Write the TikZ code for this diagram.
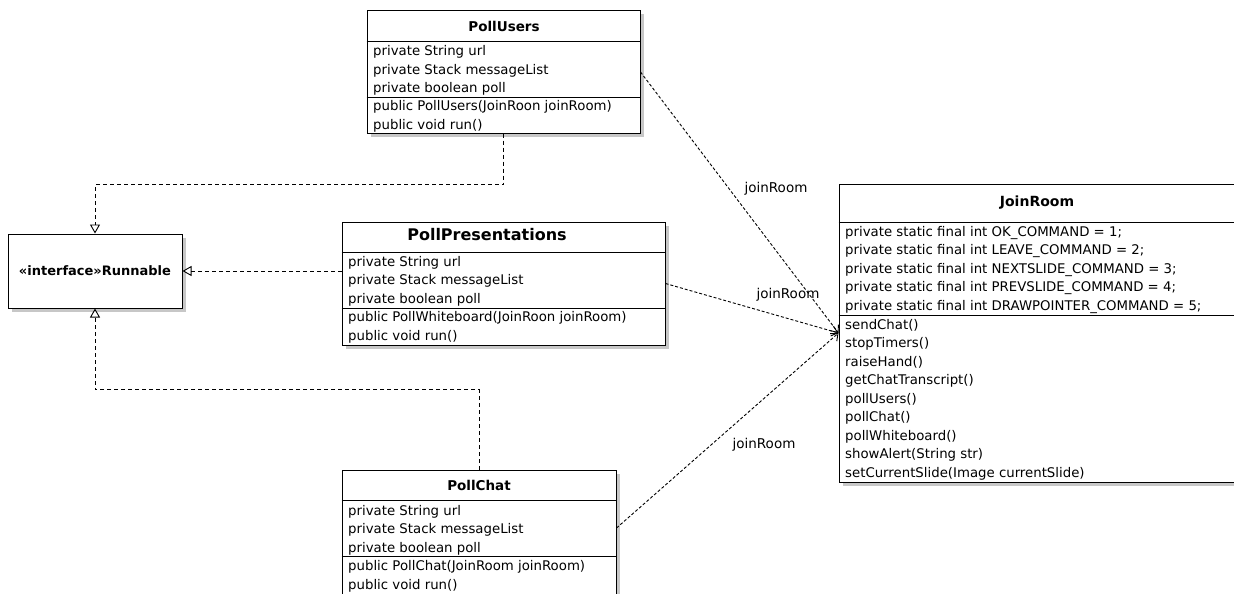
\documentclass[tikz,border=0pt]{standalone}
\usepackage{fontspec}
\setmainfont{DejaVu Sans}
\usetikzlibrary{arrows.meta,shadows}

\tikzset{
  cls/.style={draw, line width=1pt, fill=white, inner sep=0pt,
    drop shadow={shadow xshift=3.5pt,shadow yshift=-3.5pt,fill=black!22,opacity=1}},
  member/.style={anchor=base west, inner sep=0pt, font=\fontsize{13.3}{16}\selectfont},
  ctitle/.style={inner sep=0pt, font=\bfseries\fontsize{13.5}{16}\selectfont},
  lbl/.style={inner sep=0pt, font=\fontsize{13.5}{16}\selectfont},
  real/.style={line width=.9pt, dash pattern=on 4pt off 3pt, -{Triangle[open,length=9pt,width=10pt]}},
  dep/.style={line width=.9pt, dash pattern=on 3pt off 2pt, -{Straight Barb[length=6pt,width=10pt]}},
}

\begin{document}
\begin{tikzpicture}[x=1pt, y=-1pt]
\useasboundingbox (0,0) rectangle (1234,594);

% classes
\node[cls, minimum width=174pt, minimum height=74pt, font=\bfseries\fontsize{13}{15}\selectfont] (runnable) at (95,271) {«interface»Runnable};
\node[cls, minimum width=273pt, minimum height=122pt] (users) at (503.5,72) {};
\node[cls, minimum width=323pt, minimum height=123pt] (pres) at (503.5,283.5) {};
\node[cls, minimum width=274pt, minimum height=128pt] (chat) at (479,534) {};
\node[cls, minimum width=401pt, minimum height=298pt] (join) at (1039.5,333) {};

% PollUsers
\node[ctitle] at (504,26) {PollUsers};
\draw[line width=1pt] (users.west |- 0,42) -- (users.east |- 0,42);
\draw[line width=1pt] (users.west |- 0,97) -- (users.east |- 0,97);
\foreach \t [count=\i from 0] in {private String url,private Stack messageList,private boolean poll,public PollUsers(JoinRoon joinRoom),public void run()}
  \node[member] at (373,56+18.3*\i) {\t};

% PollPresentations
\node[ctitle, font=\bfseries\fontsize{16}{18}\selectfont] at (487,235) {PollPresentations};
\draw[line width=1pt] (pres.west |- 0,252) -- (pres.east |- 0,252);
\draw[line width=1pt] (pres.west |- 0,308) -- (pres.east |- 0,308);
\foreach \t [count=\i from 0] in {private String url,private Stack messageList,private boolean poll,public PollWhiteboard(JoinRoon joinRoom),public void run()}
  \node[member] at (348,266+18.5*\i) {\t};

% PollChat
\node[ctitle] at (479,485) {PollChat};
\draw[line width=1pt] (chat.west |- 0,500) -- (chat.east |- 0,500);
\draw[line width=1pt] (chat.west |- 0,556) -- (chat.east |- 0,556);
\foreach \t [count=\i from 0] in {private String url,private Stack messageList,private boolean poll,public PollChat(JoinRoom joinRoom),public void run()}
  \node[member] at (348,515+18.5*\i) {\t};

% JoinRoom
\node[ctitle, font=\bfseries\fontsize{14}{16}\selectfont] at (1037,203) {JoinRoom};
\draw[line width=1pt] (join.west |- 0,222) -- (join.east |- 0,222);
\draw[line width=1pt] (join.west |- 0,315) -- (join.east |- 0,315);
\foreach \t [count=\i from 0] in {private static final int OK\_COMMAND = 1;,private static final int LEAVE\_COMMAND = 2;,private static final int NEXTSLIDE\_COMMAND = 3;,private static final int PREVSLIDE\_COMMAND = 4;,private static final int DRAWPOINTER\_COMMAND = 5;}
  \node[member] at (845,236+18.5*\i) {\t};
\foreach \t [count=\i from 0] in {sendChat(),stopTimers(),raiseHand(),getChatTranscript(),pollUsers(),pollChat(),pollWhiteboard(),showAlert(String str),setCurrentSlide(Image currentSlide)}
  \node[member] at (845,329+18.5*\i) {\t};

% realizations
\draw[real] (users.south) -- ++(0,51) -| (runnable.north);
\draw[real] (runnable.east -| pres.west) -- (runnable.east);
\draw[real] (chat.north) -- ++(0,-80) -| (runnable.south);

% dependencies
\draw[dep] (users.east) -- (join.west);
\draw[dep] (pres.east) -- (join.west);
\draw[dep] ([yshift=6pt]chat.east) -- (join.west);
\node[lbl] (l1) at (776,189) {joinRoom};
\node[lbl] (l2) at (788,295) {joinRoom};
\node[lbl] (l3) at (764,445) {joinRoom};
\end{tikzpicture}
\end{document}
